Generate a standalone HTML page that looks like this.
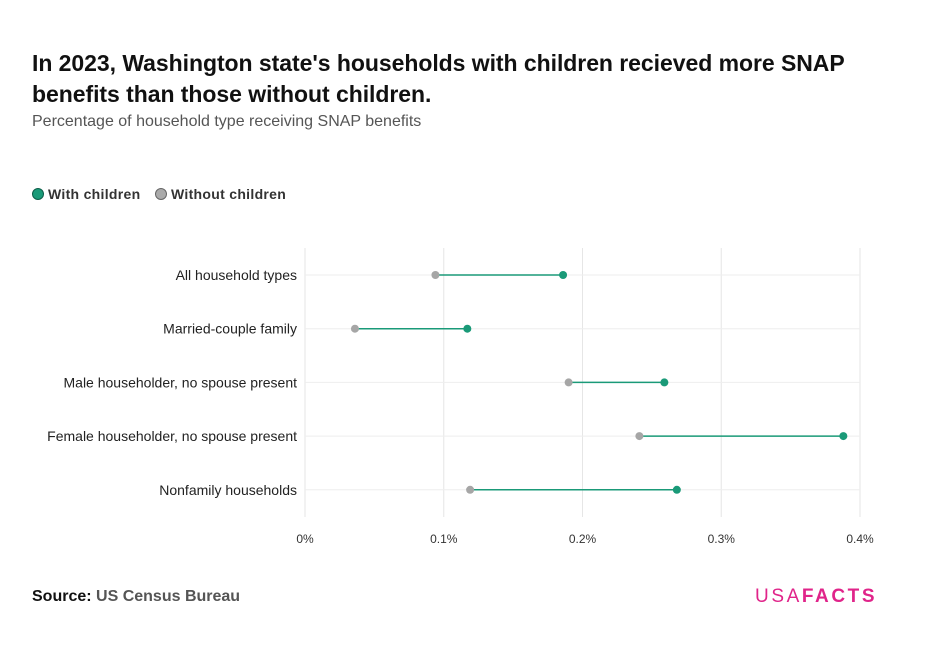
<!DOCTYPE html>
<html><head><meta charset="utf-8">
<style>
body{margin:0;background:#fff;font-family:"Liberation Sans","DejaVu Sans",sans-serif;}
#wrap{position:relative;width:929px;height:661px;overflow:hidden;}
.t{position:absolute;white-space:nowrap;}
</style></head>
<body>
<div id="wrap">
<div class="t" style="left:32px;top:48px;font-size:23px;font-weight:bold;color:#111;line-height:31px;letter-spacing:-0.05px;">In 2023, Washington state's households with children recieved more SNAP<br>benefits than those without children.</div>
<div class="t" style="left:32px;top:113px;font-size:16px;color:#555;">Percentage of household type receiving SNAP benefits</div>
<div class="t" style="left:32px;top:186px;font-size:14px;font-weight:bold;color:#333;letter-spacing:0.3px;"><span style="display:inline-block;width:10px;height:10px;border-radius:50%;background:#1a9a78;border:1px solid #0d5e49;vertical-align:-1px;margin-right:4px;"></span>With children</div>
<div class="t" style="left:155px;top:186px;font-size:14px;font-weight:bold;color:#333;letter-spacing:0.3px;"><span style="display:inline-block;width:10px;height:10px;border-radius:50%;background:#aaa;border:1px solid #666;vertical-align:-1px;margin-right:4px;"></span>Without children</div>
<svg id="chart" width="929" height="661" style="position:absolute;left:0;top:0;" font-family="Liberation Sans, DejaVu Sans, sans-serif"></svg>
<div class="t" style="left:32px;top:588px;font-size:16px;color:#555;font-weight:bold;"><span style="color:#111;">Source:</span> US Census Bureau</div>
<div class="t" style="left:755px;top:586px;font-size:19px;color:#e0248a;letter-spacing:2.6px;">USA<b>FACTS</b></div>
</div>
<script>
const categories=["All household types","Married-couple family","Male householder, no spouse present","Female householder, no spouse present","Nonfamily households"];
const withChildren=[0.186,0.117,0.259,0.388,0.268];
const withoutChildren=[0.094,0.036,0.19,0.241,0.119];
const tickValues=[0,0.1,0.2,0.3,0.4];
const tickLabels=["0%","0.1%","0.2%","0.3%","0.4%"];
const svg=document.getElementById('chart');
const NS='http://www.w3.org/2000/svg';
const x0=305,x1=860,top0=248,bot=517;
const xs=v=>x0+(v/0.4)*(x1-x0);
const ys=i=>275+i*53.7;
function mk(t,a){const e=document.createElementNS(NS,t);for(const k in a)e.setAttribute(k,a[k]);svg.appendChild(e);return e;}
tickValues.forEach((v,i)=>{
 const g=mk('line',{x1:xs(v),x2:xs(v),y1:top0,y2:bot,stroke:'#e6e6e6','stroke-width':1});
 
 
 const t=mk('text',{x:xs(v),y:543,'text-anchor':'middle','font-size':12,fill:'#333'});
 t.textContent=tickLabels[i];
 
 
});
categories.forEach((c,i)=>{
 const y=ys(i);
 const gl=mk('line',{x1:x0,x2:x1,y1:y,y2:y,stroke:'#eeeeee','stroke-width':1});
 
 
 const l=mk('text',{x:297,y:y+5,'text-anchor':'end','font-size':14,fill:'#222'});
 l.textContent=c;
 
 
 const ln=mk('line',{x1:xs(withoutChildren[i]),x2:xs(withChildren[i]),y1:y,y2:y,stroke:'#1a9a78','stroke-width':1.5});
 
 
 const a=mk('circle',{cx:xs(withoutChildren[i]),cy:y,r:4,fill:'#a6a6a6'});
 
 
 const b=mk('circle',{cx:xs(withChildren[i]),cy:y,r:4,fill:'#1a9a78'});
 
 
});
</script>
</body></html>
